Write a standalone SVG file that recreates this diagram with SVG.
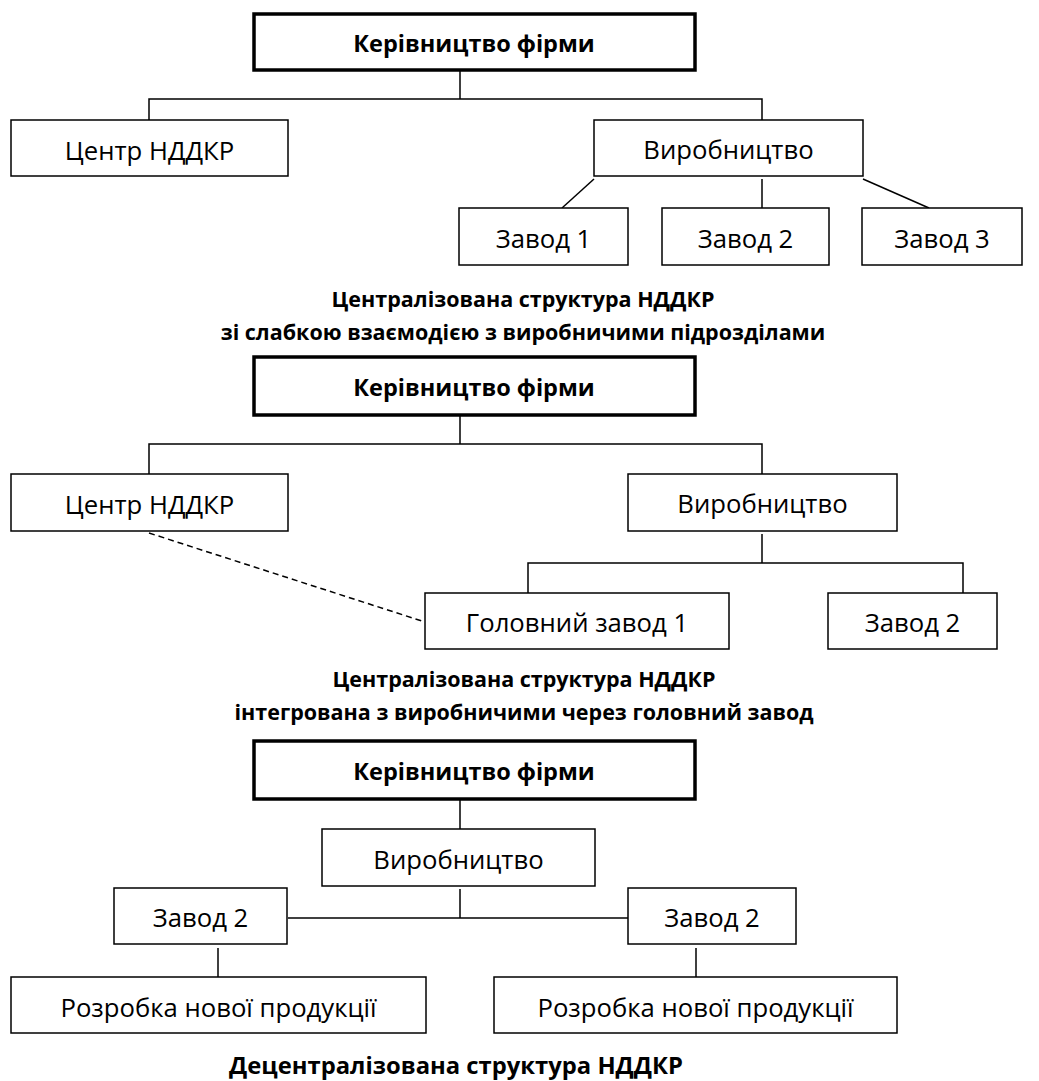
<svg xmlns="http://www.w3.org/2000/svg" width="1039" height="1081" viewBox="0 0 1039 1081">
<style>
  .bg{fill:#fff}
  .box{fill:#fff;stroke:#000;stroke-width:1.5}
  .head{fill:#fff;stroke:#000;stroke-width:3.5}
  .t{font-family:"Open Sans","Noto Sans","Liberation Sans",sans-serif;font-size:25.7px;fill:#000;text-anchor:middle}
  .tb{font-family:"Open Sans","Noto Sans","Liberation Sans",sans-serif;font-size:23.5px;font-weight:bold;fill:#000;text-anchor:middle}
  .cap{font-family:"Open Sans","Noto Sans","Liberation Sans",sans-serif;font-size:21.5px;font-weight:bold;fill:#000;text-anchor:middle}
  .cap3{font-family:"Open Sans","Noto Sans","Liberation Sans",sans-serif;font-size:23.8px;font-weight:bold;fill:#000;text-anchor:middle}
  .ln{fill:none;stroke:#000;stroke-width:1.5}
  .dash{fill:none;stroke:#000;stroke-width:1.5;stroke-dasharray:6 4}
</style>
<rect class="bg" x="0" y="0" width="1039" height="1081"/>

<g id="connectors">
  <!-- section 1 -->
  <polyline class="ln" points="460,71 460,99"/>
  <polyline class="ln" points="149,120 149,99 762,99 762,120"/>
  <line class="ln" x1="594" y1="179" x2="562" y2="208"/>
  <line class="ln" x1="762" y1="179" x2="762" y2="208"/>
  <line class="ln" x1="863" y1="179" x2="929" y2="208"/>
  <!-- section 2 -->
  <polyline class="ln" points="460,416 460,444"/>
  <polyline class="ln" points="149,474 149,444 762,444 762,474"/>
  <polyline class="ln" points="762,534 762,563"/>
  <polyline class="ln" points="528,593 528,563 963,563 963,593"/>
  <line class="dash" x1="149" y1="533" x2="425" y2="622"/>
  <!-- section 3 -->
  <polyline class="ln" points="460,800 460,829"/>
  <polyline class="ln" points="460,889 460,918"/>
  <line class="ln" x1="288" y1="918" x2="628" y2="918"/>
  <line class="ln" x1="218" y1="948" x2="218" y2="977"/>
  <line class="ln" x1="696" y1="948" x2="696" y2="977"/>
</g>

<!-- Section 1 -->
<g id="s1-head"><rect class="head" x="254" y="14" width="441" height="56"/><text class="tb" x="474" y="52">Керівництво фірми</text></g>
<g id="s1-rd"><rect class="box" x="11" y="120" width="277" height="56"/><text class="t" x="149.5" y="160">Центр НДДКР</text></g>
<g id="s1-prod"><rect class="box" x="594" y="120" width="269" height="56"/><text class="t" x="728.5" y="159">Виробництво</text></g>
<g id="s1-z1"><rect class="box" x="459" y="208" width="169" height="57"/><text class="t" x="543.5" y="248">Завод 1</text></g>
<g id="s1-z2"><rect class="box" x="662" y="208" width="167" height="57"/><text class="t" x="745.5" y="248">Завод 2</text></g>
<g id="s1-z3"><rect class="box" x="862" y="208" width="160" height="57"/><text class="t" x="942" y="248">Завод 3</text></g>
<g id="s1-caption">
  <text class="cap" x="523" y="307">Централізована структура НДДКР</text>
  <text class="cap" x="523" y="340">зі слабкою взаємодією з виробничими підрозділами</text>
</g>

<!-- Section 2 -->
<g id="s2-head"><rect class="head" x="254" y="357" width="441" height="58"/><text class="tb" x="474" y="396">Керівництво фірми</text></g>
<g id="s2-rd"><rect class="box" x="11" y="474" width="277" height="57"/><text class="t" x="149.5" y="514">Центр НДДКР</text></g>
<g id="s2-prod"><rect class="box" x="628" y="474" width="269" height="57"/><text class="t" x="762.5" y="513">Виробництво</text></g>
<g id="s2-main"><rect class="box" x="425" y="593" width="304" height="56"/><text class="t" x="577" y="632">Головний завод 1</text></g>
<g id="s2-z2"><rect class="box" x="828" y="593" width="169" height="56"/><text class="t" x="912.5" y="632">Завод 2</text></g>
<g id="s2-caption">
  <text class="cap" x="524" y="687">Централізована структура НДДКР</text>
  <text class="cap" x="524" y="720">інтегрована з виробничими через головний завод</text>
</g>

<!-- Section 3 -->
<g id="s3-head"><rect class="head" x="254" y="741" width="441" height="58"/><text class="tb" x="474" y="780">Керівництво фірми</text></g>
<g id="s3-prod"><rect class="box" x="322" y="829" width="273" height="57"/><text class="t" x="458.5" y="869">Виробництво</text></g>
<g id="s3-z2l"><rect class="box" x="114" y="888" width="173" height="56"/><text class="t" x="200.5" y="927">Завод 2</text></g>
<g id="s3-z2r"><rect class="box" x="628" y="888" width="168" height="56"/><text class="t" x="712" y="927">Завод 2</text></g>
<g id="s3-newl"><rect class="box" x="11" y="977" width="415" height="56"/><text class="t" x="218.5" y="1017">Розробка нової продукції</text></g>
<g id="s3-newr"><rect class="box" x="494" y="977" width="403" height="56"/><text class="t" x="695.5" y="1017">Розробка нової продукції</text></g>
<g id="s3-caption">
  <text class="cap3" x="456" y="1074">Децентралізована структура НДДКР</text>
</g>
</svg>
